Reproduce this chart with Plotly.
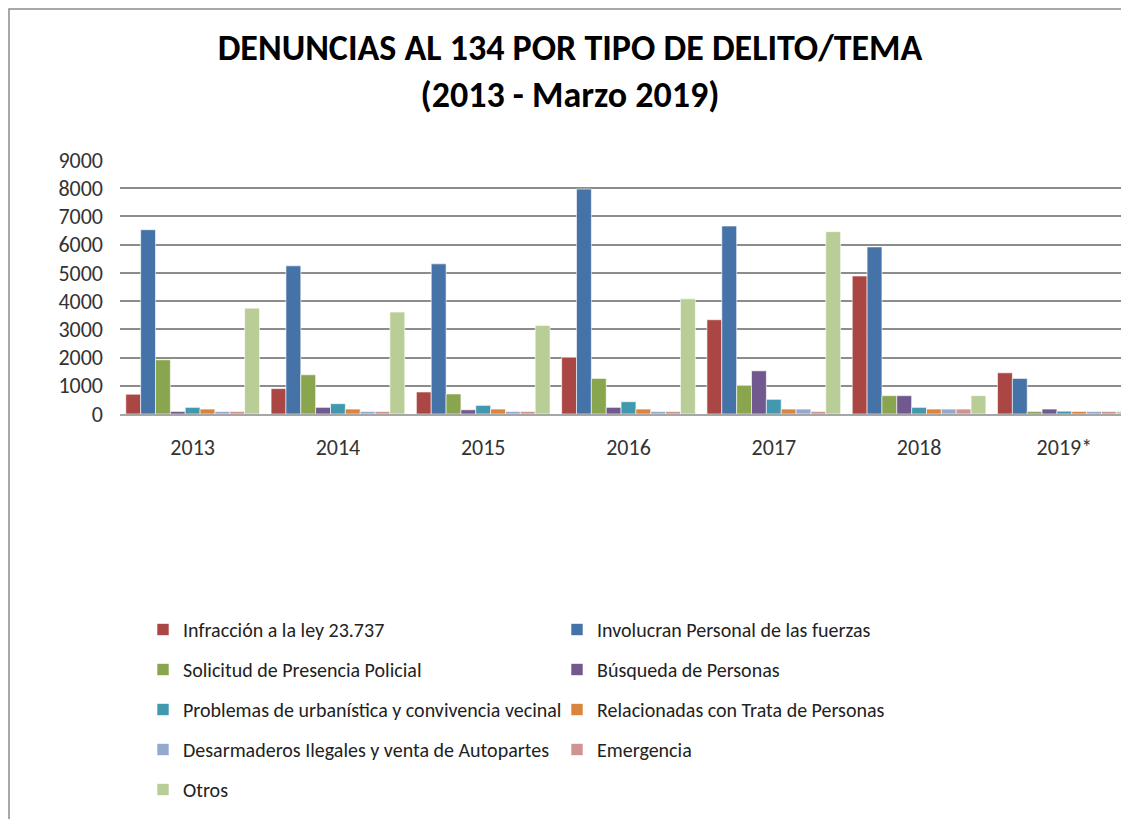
import plotly.graph_objects as go

years = ["2013", "2014", "2015", "2016", "2017", "2018", "2019*"]

series_names = [
    "Infracción a la ley 23.737",
    "Involucran Personal de las fuerzas",
    "Solicitud de Presencia Policial",
    "Búsqueda de Personas",
    "Problemas de urbanística y convivencia vecinal",
    "Relacionadas con Trata de Personas",
    "Desarmaderos Ilegales y venta de Autopartes",
    "Emergencia",
    "Otros",
]

infraccion = [700, 900, 780, 2010, 3340, 4890, 1460]
involucran = [6530, 5250, 5320, 7970, 6660, 5920, 1260]
solicitud = [1920, 1390, 710, 1260, 1010, 650, 90]
busqueda = [90, 235, 150, 235, 1530, 650, 175]
problemas = [235, 365, 305, 435, 520, 235, 100]
trata = [175, 175, 175, 175, 175, 175, 90]
desarmaderos = [90, 90, 90, 90, 175, 175, 90]
emergencia = [90, 90, 90, 90, 90, 175, 90]
otros = [3750, 3610, 3140, 4080, 6460, 650, 90]

values = [infraccion, involucran, solicitud, busqueda, problemas,
          trata, desarmaderos, emergencia, otros]

colors = ["#AA4643", "#4572A7", "#89A54E", "#71588F", "#4198AF",
          "#DB843D", "#93A9CF", "#D19392", "#B9CD96"]

FONT = "Carlito, Calibri, Liberation Sans, Arial, sans-serif"

fig = go.Figure()
for i, (name, vals, col) in enumerate(zip(series_names, values, colors)):
    fig.add_trace(go.Bar(
        x=years, y=vals, name=name,
        marker=dict(color=col, line=dict(color="rgba(255,255,255,0.6)", width=1)),
        legend="legend" if i % 2 == 0 else "legend2",
        legendgroup=f"g{i}",
    ))

# page has an ~8px body offset; positions below are in screen pixels
OFF = 8
W, H = 1129, 819
ml, mr, mt = 120 - OFF, 0, 160 - OFF
mb = H - (414 - OFF)
pw = W - ml - mr
ph = H - mt - mb

def px_x(p):
    return (p - OFF - ml) / pw

def px_y(p):
    return (H - mb - (p - OFF)) / ph

legend_common = dict(
    orientation="v",
    font=dict(family=FONT, size=20, color="#222222"),
    tracegroupgap=11,
    bgcolor="rgba(0,0,0,0)",
    itemwidth=30,
    xanchor="left", yanchor="top",
)

fig.update_layout(
    width=W, height=H,
    margin=dict(l=ml, r=mr, t=mt, b=mb),
    paper_bgcolor="white", plot_bgcolor="white",
    barmode="group", bargap=0.08, bargroupgap=0,
    title=dict(
        text="<b>DENUNCIAS AL 134 POR TIPO DE DELITO/TEMA<br>(2013 - Marzo 2019)</b>",
        x=(570 - OFF) / W, xref="container", xanchor="center",
        y=1 - 52 / H, yref="container", yanchor="top",
        font=dict(family=FONT, size=36, color="#000000"),
    ),
    font=dict(family=FONT, size=22, color="#333333"),
    showlegend=True,
    legend=dict(x=px_x(143), y=px_y(610), **legend_common),
    legend2=dict(x=px_x(557), y=px_y(610), **legend_common),
    xaxis=dict(
        showgrid=False, showline=True, linecolor="#A6A6A6", linewidth=1.5,
        ticks="", tickfont=dict(family=FONT, size=22, color="#333333"),
        ticklabelstandoff=13, range=[-0.5, 6.5],
    ),
    yaxis=dict(
        range=[0, 9000], dtick=1000, showgrid=True, gridcolor="#8C8C8C",
        gridwidth=1.5, zeroline=False, showline=False, ticks="",
        tickfont=dict(family=FONT, size=22, color="#333333"),
        ticklabelstandoff=16,
    ),
)

# chart border
fig.add_shape(type="rect", xref="paper", yref="paper",
              x0=px_x(OFF + 1), x1=px_x(1150), y0=px_y(840), y1=px_y(OFF + 1),
              line=dict(color="#8C8C8C", width=1.5), layer="below")

fig.write_html("out.html")
